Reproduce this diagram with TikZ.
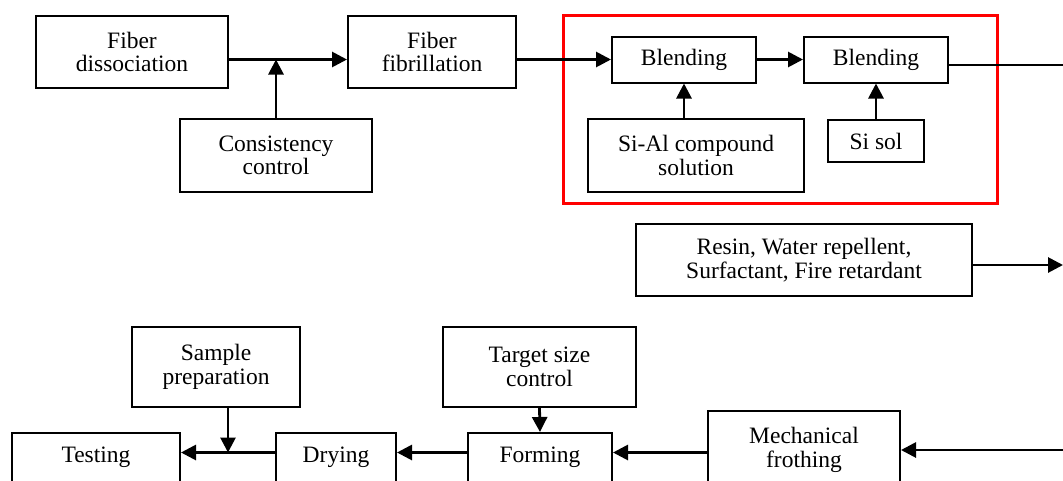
\documentclass[tikz,border=0pt]{standalone}
\usepackage{fontspec}
\setmainfont{Liberation Serif}
\usetikzlibrary{arrows.meta, positioning, calc}

\begin{document}
\begin{tikzpicture}[x=1pt, y=-1pt,
    box/.style={draw, line width=2pt, inner sep=0pt, align=center, font=\fontsize{23.5}{23.5}\selectfont},
    cutbox/.style={box, anchor=north, text height=29.7pt, text depth=40pt},
    flow/.style={line width=2.8pt, -{Triangle[length=15pt, width=15pt]}},
    link/.style={line width=2.8pt},
    frame/.style={draw=red, line width=3pt}]
  \clip (0,0) rectangle (1063,480);
  % top row
  \node[box, minimum width=192pt, minimum height=72pt] (diss) at (132,52) {Fiber\\dissociation};
  \node[box, minimum width=168pt, minimum height=72pt] (fibr) at (432,52) {Fiber\\fibrillation};
  \node[box, minimum width=192pt, minimum height=73pt] (consist) at (276,155.5) {Consistency\\control};
  \node[box, minimum width=144pt, minimum height=46pt] (blend1) at (684,59.5) {Blending};
  \node[box, minimum width=144pt, minimum height=46pt] (blend2) at (876,59.5) {Blending};
  \node[box, minimum width=216pt, minimum height=73pt] (sial) at (696,155.5) {Si-Al compound\\solution};
  \node[box, minimum width=96pt, minimum height=42pt] (sisol) at (876,141) {Si sol};
  \draw[frame] (563,15) rectangle (997,203);
  \coordinate (outtop) at (1063,65);
  % middle
  \node[box, minimum width=336pt, minimum height=72pt] (resin) at (804,260) {Resin, Water repellent,\\Surfactant, Fire retardant};
  \coordinate (outmid) at (1063,265);
  % bottom row
  \node[box, minimum width=168pt, minimum height=80pt] (sample) at (216,367) {Sample\\preparation};
  \node[box, minimum width=193pt, minimum height=80pt] (target) at (539.5,367) {Target size\\control};
  \node[box, minimum width=192pt, minimum height=78pt] (mech) at (804,450) {Mechanical\\frothing};
  \node[cutbox, minimum width=168pt] (testing) at (96,432) {Testing};
  \node[cutbox, minimum width=120pt] (drying) at (336,432) {Drying};
  \node[cutbox, minimum width=144pt] (forming) at (540,432) {Forming};
  \coordinate (lowrow) at (0,452.5);
  \coordinate (join) at (228,452.5);
  \coordinate (inbot) at (1063,450);

  \draw[flow] (diss.east |- blend1) -- (fibr.west |- blend1);
  \draw[flow] (consist.north) -- (consist.north |- blend1);
  \draw[flow] (fibr.east |- blend1) -- (blend1.west);
  \draw[flow] (blend1) -- (blend2);
  \draw[flow] (sial.north -| blend1) -- (blend1.south);
  \draw[flow] (sisol.north) -- (blend2.south);
  \draw[link] (blend2.east |- outtop) -- (outtop);
  \draw[flow] (resin.east |- outmid) -- (outmid);
  \draw[flow] (inbot) -- (mech.east);
  \draw[flow] (mech.west |- lowrow) -- (forming.east |- lowrow);
  \draw[flow] (target.south) -- (forming.north);
  \draw[flow] (forming.west |- lowrow) -- (drying.east |- lowrow);
  \draw[flow] (drying.west |- lowrow) -- (testing.east |- lowrow);
  \draw[flow] (sample.south -| join) -- (join);
\end{tikzpicture}
\end{document}
